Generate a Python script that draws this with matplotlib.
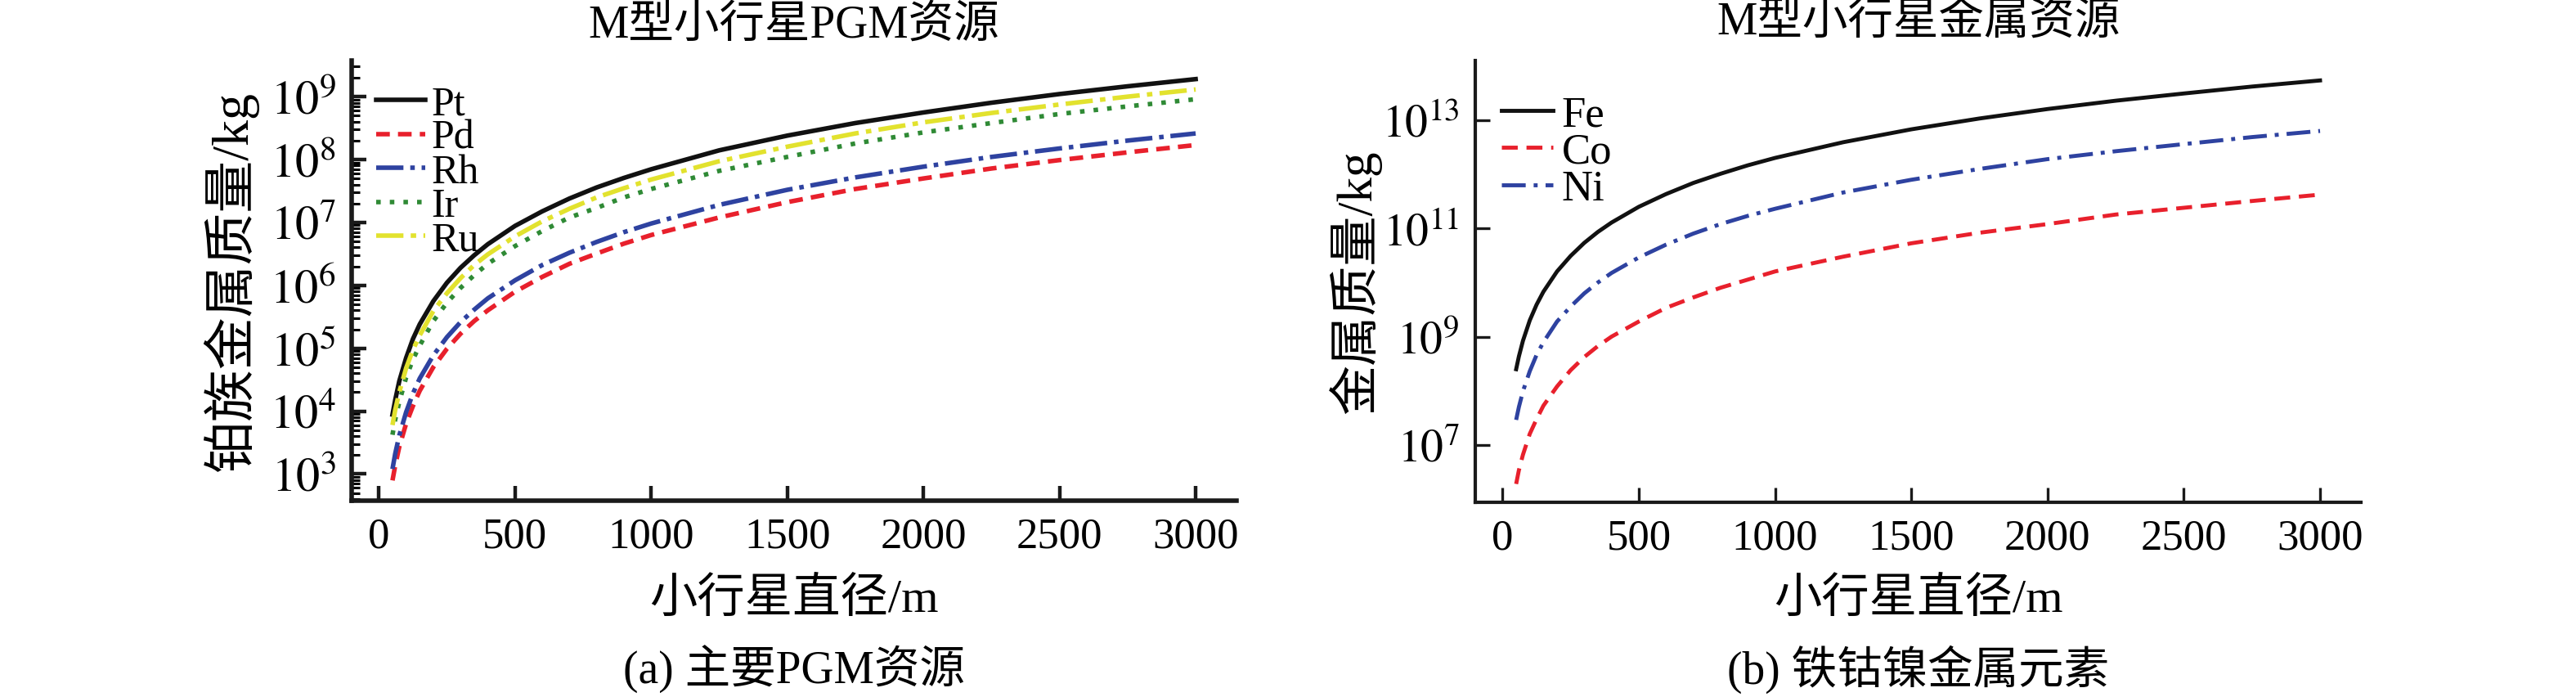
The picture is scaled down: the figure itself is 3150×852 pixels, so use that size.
import matplotlib
matplotlib.use("Agg")
import matplotlib.pyplot as plt

# ---------------------------------------------------------------------------
# fonts: serif for Latin, Noto CJK as fallback for Chinese
# ---------------------------------------------------------------------------
plt.rcParams["font.family"] = ["Liberation Serif", "Noto Sans CJK SC"]
plt.rcParams["mathtext.fontset"] = "stix"
FONTS = ["Liberation Serif", "Noto Sans CJK SC"]

# ---------------------------------------------------------------------------
# data (diameter in m, mass in kg)
# ---------------------------------------------------------------------------
diameter = [50, 60, 75, 100, 125, 150, 200, 250, 300, 350, 400, 500, 600, 700,
            800, 900, 1000, 1250, 1500, 1750, 2000, 2250, 2500, 2750, 3000]

pt = [8.8e3, 1.5e4, 3.0e4, 7.0e4, 1.4e5, 2.4e5, 5.6e5, 1.1e6, 1.9e6, 3.0e6, 4.5e6, 8.8e6, 1.5e7,
      2.4e7, 3.6e7, 5.1e7, 7.0e7, 1.4e8, 2.4e8, 3.8e8, 5.6e8, 8.0e8, 1.1e9, 1.46e9, 1.9e9]
pd = [7.9e2, 1.36e3, 2.7e3, 6.3e3, 1.2e4, 2.1e4, 5.0e4, 9.8e4, 1.7e5, 2.7e5, 4.0e5, 7.9e5, 1.36e6,
      2.2e6, 3.2e6, 4.6e6, 6.3e6, 1.2e7, 2.1e7, 3.4e7, 5.0e7, 7.2e7, 9.8e7, 1.3e8, 1.7e8]
rh = [1.2e3, 2.1e3, 4.1e3, 9.6e3, 1.9e4, 3.3e4, 7.7e4, 1.5e5, 2.6e5, 4.1e5, 6.2e5, 1.2e6, 2.1e6,
      3.3e6, 4.9e6, 7.0e6, 9.6e6, 1.9e7, 3.3e7, 5.2e7, 7.7e7, 1.1e8, 1.5e8, 2.0e8, 2.6e8]
ir = [4.2e3, 7.3e3, 1.4e4, 3.4e4, 6.6e4, 1.1e5, 2.7e5, 5.3e5, 9.1e5, 1.45e6, 2.2e6, 4.2e6, 7.3e6,
      1.2e7, 1.7e7, 2.5e7, 3.4e7, 6.6e7, 1.1e8, 1.8e8, 2.7e8, 3.8e8, 5.3e8, 7.0e8, 9.1e8]
ru = [6.0e3, 1.04e4, 2.0e4, 4.8e4, 9.4e4, 1.6e5, 3.9e5, 7.5e5, 1.3e6, 2.1e6, 3.1e6, 6.0e6, 1.04e7,
      1.65e7, 2.5e7, 3.5e7, 4.8e7, 9.4e7, 1.6e8, 2.6e8, 3.9e8, 5.5e8, 7.5e8, 1.0e9, 1.3e9]

fe = [2.5e8, 4.3e8, 8.4e8, 2.0e9, 3.9e9, 6.75e9, 1.6e10, 3.1e10, 5.4e10, 8.6e10, 1.28e11, 2.5e11,
      4.3e11, 6.9e11, 1.02e12, 1.46e12, 2.0e12, 3.9e12, 6.75e12, 1.07e13, 1.6e13, 2.28e13, 3.1e13,
      4.16e13, 5.4e13]
co = [1.9e6, 3.4e6, 6.6e6, 1.6e7, 3.0e7, 5.3e7, 1.2e8, 2.4e8, 4.2e8, 6.7e8, 1.0e9, 1.9e9, 3.4e9,
      5.3e9, 8.0e9, 1.13e10, 1.6e10, 3.0e10, 5.3e10, 8.3e10, 1.2e11, 1.8e11, 2.4e11, 3.2e11, 4.2e11]
ni = [2.9e7, 5.0e7, 9.8e7, 2.3e8, 4.6e8, 7.9e8, 1.9e9, 3.6e9, 6.3e9, 1.0e10, 1.5e10, 2.9e10, 5.0e10,
      8.0e10, 1.2e11, 1.7e11, 2.3e11, 4.6e11, 7.9e11, 1.25e12, 1.9e12, 2.66e12, 3.6e12, 4.85e12, 6.3e12]

x_ticks = [0, 500, 1000, 1500, 2000, 2500, 3000]
left_yticks = [1e3, 1e4, 1e5, 1e6, 1e7, 1e8, 1e9]
left_ylabels = [r"$10^{3}$", r"$10^{4}$", r"$10^{5}$", r"$10^{6}$", r"$10^{7}$", r"$10^{8}$", r"$10^{9}$"]
right_yticks = [1e7, 1e9, 1e11, 1e13]
right_ylabels = [r"$10^{7}$", r"$10^{9}$", r"$10^{11}$", r"$10^{13}$"]

# ---------------------------------------------------------------------------
# figure
# ---------------------------------------------------------------------------
W, H = 3150, 853
fig = plt.figure(figsize=(W / 100, H / 100), dpi=100)


def px_axes(x0, y0, x1, y1):
    # pixel box (top-left origin) -> figure fraction axes
    return fig.add_axes([x0 / W, 1 - y1 / H, (x1 - x0) / W, (y1 - y0) / H])


def style_axes(ax, lw):
    for s in ["top", "right"]:
        ax.spines[s].set_visible(False)
    for s in ["left", "bottom"]:
        ax.spines[s].set_linewidth(lw)
        ax.spines[s].set_color("#1a1a1a")
    ax.set_xlim(-100, 3150)
    ax.set_xticks(x_ticks)
    ax.set_xticklabels([str(t) for t in x_ticks], fontsize=38)
    ax.tick_params(axis="both", which="major", direction="in", length=13,
                   width=lw * 0.8, pad=14, color="#1a1a1a")


# --- (a) PGM ---
ax1 = px_axes(430, 75, 1512, 613)
ax1.set_yscale("log")
ax1.plot(diameter, pt, color="#111111", lw=4, label="Pt")
ax1.plot(diameter, pd, color="#e8202c", lw=4, dashes=(3, 1.8), label="Pd")
ax1.plot(diameter, rh, color="#2e42a0", lw=4, dashes=(6, 1.5, 1, 1.5), label="Rh")
ax1.plot(diameter, ir, color="#2f8a35", lw=4, dashes=(1, 2), label="Ir")
ax1.plot(diameter, ru, color="#e2e22e", lw=4, dashes=(6, 1.6, 1.2, 1.6), label="Ru")
ax1.set_ylim(10 ** 2.576, 10 ** 9.574)
ax1.set_yticks(left_yticks)
ax1.set_yticklabels(left_ylabels, fontsize=42)
ax1.tick_params(axis="y", which="minor", direction="in", length=7, width=2.2)
style_axes(ax1, 4)
ax1.legend(loc="upper left", bbox_to_anchor=(0.0, 1.0), frameon=False,
           fontsize=36, handlelength=1.2, handletextpad=0.15, labelspacing=-0.1,
           borderaxespad=0.2)

# --- (b) Fe Co Ni ---
ax2 = px_axes(1804, 75, 2887, 615)
ax2.set_yscale("log")
ax2.plot(diameter, fe, color="#111111", lw=3.5, label="Fe")
ax2.plot(diameter, co, color="#e8202c", lw=3.5, dashes=(4, 2.2), label="Co")
ax2.plot(diameter, ni, color="#2e42a0", lw=3.5, dashes=(6, 2, 1, 2), label="Ni")
ax2.set_ylim(10 ** 5.94, 10 ** 14.1)
ax2.set_yticks(right_yticks)
ax2.set_yticklabels(right_ylabels, fontsize=40)
ax2.minorticks_off()
style_axes(ax2, 3)
ax2.legend(loc="upper left", bbox_to_anchor=(0.0, 0.98), frameon=False,
           fontsize=38, handlelength=1.2, handletextpad=0.2, labelspacing=-0.05,
           borderaxespad=0.2)

# --- texts ---
fig.text(971 / W, 1 - 32 / H, "M型小行星PGM资源", ha="center", va="center",
         fontsize=40, family=FONTS)
fig.text(2346 / W, 1 - 28 / H, "M型小行星金属资源", ha="center", va="center",
         fontsize=40, family=FONTS)
fig.text(282 / W, 1 - 344 / H, "铂族金属质量/kg", rotation=90, ha="center",
         va="center", fontsize=46, family=FONTS)
fig.text(1657 / W, 1 - 345 / H, "金属质量/kg", rotation=90, ha="center",
         va="center", fontsize=44, family=FONTS)
fig.text(971 / W, 1 - 733 / H, "小行星直径/m", ha="center", va="center",
         fontsize=42, family=FONTS)
fig.text(2346 / W, 1 - 733 / H, "小行星直径/m", ha="center", va="center",
         fontsize=42, family=FONTS)
fig.text(971 / W, 1 - 818 / H, "(a) 主要PGM资源", ha="center", va="center",
         fontsize=40, family=FONTS)
fig.text(2346 / W, 1 - 818 / H, "(b) 铁钴镍金属元素", ha="center", va="center",
         fontsize=40, family=FONTS)

fig.savefig("out.png", dpi=100)
